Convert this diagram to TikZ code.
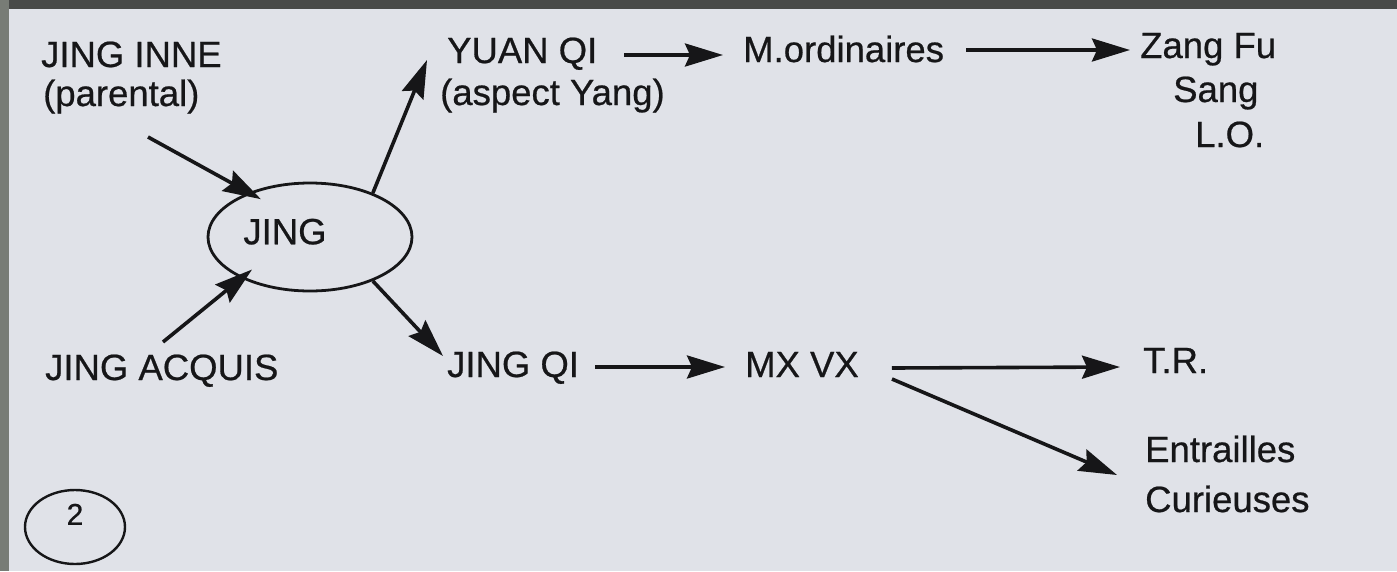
\documentclass[tikz,border=0pt]{standalone}
\usepackage{fontspec}
\setmainfont[FakeBold=0.6]{Liberation Sans}
\usetikzlibrary{arrows.meta,shapes.geometric}
\definecolor{paper}{RGB}{224,226,232}
\definecolor{ink}{RGB}{22,22,24}
\definecolor{edgetop}{RGB}{72,74,72}
\definecolor{edgeleft}{RGB}{120,124,118}
\tikzset{
  lbl/.style={anchor=base west, inner sep=0pt, text=ink, font=\fontsize{36.5}{44}\selectfont},
  arr/.style={draw=ink, line width=3.6pt, -{Stealth[length=38pt,width=23pt,inset=5pt]}},
  oval/.style={draw=ink, ellipse, inner sep=0pt, line width=2.8pt, text=ink}
}
\begin{document}
\begin{tikzpicture}[x=1pt,y=-1pt]
\useasboundingbox (0,0) rectangle (1397,571);
\fill[edgetop] (0,0) rectangle (1397,9);
\fill[edgeleft] (0,0) rectangle (9,571);
\fill[paper] (9,9) rectangle (1397,571);

% labels
\node[lbl] (jinginne) at (41,67) {JING INNE};
\node[lbl] (parental) at (43,106) {(parental)};
\node[lbl] (acquis) at (45,380) {JING ACQUIS};
\node[lbl] (yuan) at (447,63) {YUAN QI};
\node[lbl] (yang) at (440,105) {(aspect Yang)};
\node[lbl] (mord) at (743,62) {M.ordinaires};
\node[lbl] (zangfu) at (1140,58) {Zang Fu};
\node[lbl] (sang) at (1173,102) {Sang};
\node[lbl] (lo) at (1195,147) {L.O.};
\node[lbl] (jingqi) at (447,377) {JING QI};
\node[lbl] (mxvx) at (745,377) {MX VX};
\node[lbl] (tr) at (1143,373) {T.R.};
\node[lbl] (entrailles) at (1145,462) {Entrailles};
\node[lbl] (curieuses) at (1145,512) {Curieuses};

% ovals
\node[oval, minimum width=204pt, minimum height=108pt,
      font=\fontsize{36.5}{44}\selectfont, text height=26.5pt, text depth=12pt]
      (jing) at (310,237) {JING\rule{50pt}{0pt}};
\node[oval, line width=2.4pt, minimum width=100pt, minimum height=74pt,
      font=\fontsize{30}{36}\selectfont, text height=21.5pt, text depth=26pt]
      (two) at (75,527) {2};

% connectors
\draw[arr, shorten >=-14pt] ([shift={(107,70)}]jinginne.base west) -- (jing.144);
\draw[arr, shorten >=-14pt] ([shift={(118,-38)}]acquis.base west) -- (jing.211);
\draw[arr] (jing.35) -- ([shift={(-20,-3)}]yuan.base west);
\draw[arr] (jing.-35) -- ([shift={(-4,-21)}]jingqi.base west);
\draw[arr] ([shift={(27,-8)}]yuan.base east) -- ([shift={(-20,-7)}]mord.base west);
\draw[arr] ([shift={(22,-12)}]mord.base east) -- ([shift={(-10,-8)}]zangfu.base west);
\draw[arr] ([shift={(16,-10)}]jingqi.base east) -- ([shift={(-20,-10)}]mxvx.base west);
\draw[arr] ([shift={(33,-9)}]mxvx.base east) -- ([shift={(-23,-6)}]tr.base west);
\draw[arr] ([shift={(33,2)}]mxvx.base east) -- ([shift={(-28,13)}]entrailles.base west);
\end{tikzpicture}
\end{document}
